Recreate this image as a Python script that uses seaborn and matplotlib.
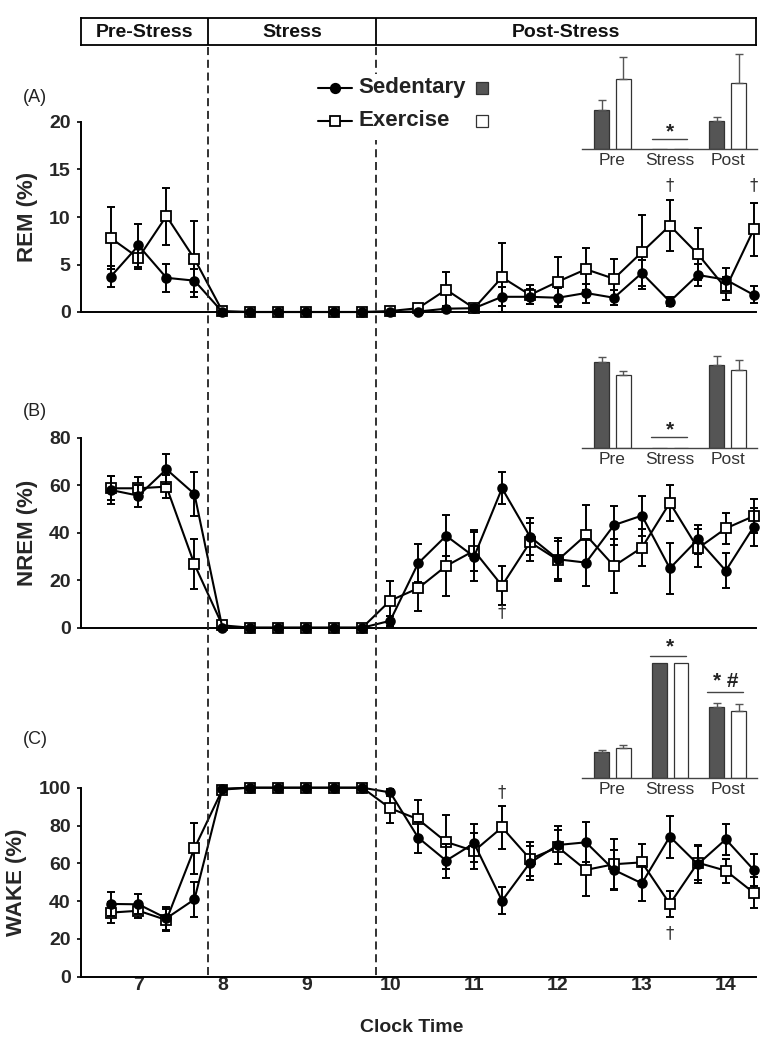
import numpy as np
import pandas as pd
import matplotlib
matplotlib.use("Agg")
import matplotlib.pyplot as plt
import seaborn as sns
from matplotlib.lines import Line2D
from matplotlib.patches import Rectangle
import matplotlib.transforms as mtransforms

# ---------------- data ----------------
clock_time = [6.667, 7.0, 7.333, 7.667, 8.0, 8.333, 8.667, 9.0, 9.333, 9.667,
              10.0, 10.333, 10.667, 11.0, 11.333, 11.667, 12.0, 12.333, 12.667,
              13.0, 13.333, 13.667, 14.0, 14.333]
x_ticks = [7, 8, 9, 10, 11, 12, 13, 14]
phase_labels = ["Pre-Stress", "Stress", "Post-Stress"]
phase_bounds = [7.833, 9.833]
groups = ["Sedentary", "Exercise"]
periods = ["Pre", "Stress", "Post"]

rem_sed = [3.7, 7.0, 3.6, 3.3, 0, 0, 0, 0, 0, 0, 0.0, 0.05, 0.35, 0.4, 1.6, 1.6,
           1.5, 2.0, 1.5, 4.1, 1.1, 3.9, 3.4, 1.8]
rem_sed_sem = [1.1, 2.3, 1.45, 1.2, 0, 0, 0, 0, 0, 0, 0, 0, 0.3, 0.3, 1.0, 0.8,
               1.0, 1.0, 0.8, 1.4, 0.5, 1.2, 1.2, 0.9]
rem_ex = [7.8, 5.7, 10.1, 5.6, 0.1, 0, 0, 0, 0, 0, 0.1, 0.4, 2.35, 0.4, 3.65, 1.8,
          3.2, 4.5, 3.5, 6.3, 9.1, 6.1, 2.5, 8.7]
rem_ex_sem = [3.3, 1.2, 3.0, 4.0, 0, 0, 0, 0, 0, 0, 0, 0.3, 1.9, 0.3, 3.6, 1.0,
              2.6, 2.2, 2.1, 3.9, 2.7, 2.7, 1.2, 2.8]

nrem_sed = [58.0, 55.6, 66.7, 56.3, 0, 0, 0, 0, 0, 0, 2.9, 27.1, 38.7, 29.9, 58.7,
            38.3, 28.8, 27.4, 43.2, 47.2, 25.0, 37.2, 24.0, 42.5]
nrem_sed_sem = [6.0, 4.6, 6.4, 9.4, 0, 0, 0, 0, 0, 0, 2.0, 8.0, 8.7, 10.2, 6.7,
                7.8, 9.0, 10.0, 8.2, 8.4, 10.8, 6.0, 7.4, 8.1]
nrem_ex = [58.7, 58.7, 59.4, 26.7, 1.0, 0, 0, 0, 0, 0, 11.4, 16.6, 26.0, 32.4, 17.7,
           36.0, 28.5, 39.0, 26.0, 33.7, 52.6, 33.4, 41.8, 47.0]
nrem_ex_sem = [5.0, 4.6, 4.8, 10.6, 0, 0, 0, 0, 0, 0, 8.3, 9.6, 12.5, 8.7, 8.2,
               8.0, 8.0, 12.7, 11.5, 7.7, 7.6, 8.0, 6.4, 7.2]

wake_sed = [38.5, 38.3, 30.9, 40.9, 99.5, 100, 100, 100, 100, 100, 97.5, 73.6, 61.4,
            70.6, 40.2, 60.3, 69.7, 71.1, 56.5, 49.4, 74.1, 59.5, 72.7, 56.5]
wake_sed_sem = [6.2, 5.3, 6.0, 9.4, 0, 0, 0, 0, 0, 0, 2.0, 8.3, 9.0, 10.0, 7.1,
                9.0, 10.0, 10.6, 10.6, 9.3, 11.1, 10.0, 8.1, 8.3]
wake_ex = [33.9, 34.9, 30.0, 67.9, 99.0, 100, 100, 100, 100, 100, 89.1, 83.3, 71.3,
           66.5, 79.0, 62.3, 68.5, 56.5, 59.5, 60.5, 38.5, 60.3, 56.1, 44.4]
wake_ex_sem = [5.7, 4.0, 6.0, 13.6, 0, 0, 0, 0, 0, 0, 7.9, 10.2, 14.3, 9.7, 11.3,
               9.0, 9.0, 13.6, 13.2, 9.7, 7.0, 9.0, 6.4, 8.2]

rem_bar_sed = [4.4, 0, 3.15]
rem_bar_sed_sem = [1.05, 0, 0.45]
rem_bar_ex = [7.9, 0, 7.4]
rem_bar_ex_sem = [2.45, 0, 3.2]

nrem_bar_sed = [58.9, 0, 56.9]
nrem_bar_sed_sem = [3.4, 0, 5.7]
nrem_bar_ex = [49.7, 0, 53.3]
nrem_bar_ex_sem = [3.1, 0, 6.6]

wake_bar_sed = [22.2, 100, 62.1]
wake_bar_sed_sem = [2.3, 0, 3.5]
wake_bar_ex = [25.7, 100, 58.6]
wake_bar_ex_sem = [2.6, 0, 5.6]

rem_daggers = [(13.333, 13.4), (14.333, 13.4)]
nrem_daggers = [(11.333, 6.7)]
wake_daggers = [(11.333, 97.9), (13.333, 23.3)]

# ---------------- style ----------------
sns.set_theme(style="ticks")
plt.rcParams["font.family"] = ["Liberation Sans", "DejaVu Sans"]
plt.rcParams["text.color"] = "#111111"

W, H = 779, 1049
fig = plt.figure(figsize=(W / 100, H / 100), dpi=100)
fig.patch.set_facecolor("white")


def fx(px):
    return px / W


def fy(py):
    return 1 - py / H


AX_L, AX_R = 81, 756
XLIM = (6.315, 14.36)

panels = [
    dict(label="(A)", ylab="REM (%)", top=122, bot=312, ylim=(0, 20), yticks=[0, 5, 10, 15, 20],
         sed=rem_sed, sed_sem=rem_sed_sem, ex=rem_ex, ex_sem=rem_ex_sem, lab_y=98,
         daggers=rem_daggers,
         inset=dict(top=50, bot=149, ymax=11.1, sed=rem_bar_sed, sed_sem=rem_bar_sed_sem,
                    ex=rem_bar_ex, ex_sem=rem_bar_ex_sem,
                    ann=[("*", 1.0, 1.35, 1.12, 0.68, 1.30)])),
    dict(label="(B)", ylab="NREM (%)", top=437.7, bot=627.7, ylim=(0, 80), yticks=[0, 20, 40, 60, 80],
         sed=nrem_sed, sed_sem=nrem_sed_sem, ex=nrem_ex, ex_sem=nrem_ex_sem, lab_y=411.7,
         daggers=nrem_daggers,
         inset=dict(top=348, bot=448.3, ymax=68.2, sed=nrem_bar_sed, sed_sem=nrem_bar_sed_sem,
                    ex=nrem_bar_ex, ex_sem=nrem_bar_ex_sem,
                    ann=[("*", 1.0, 9.0, 7.7, 0.67, 1.29)])),
    dict(label="(C)", ylab="WAKE (%)", top=787.7, bot=976.7, ylim=(0, 100), yticks=[0, 20, 40, 60, 80, 100],
         sed=wake_sed, sed_sem=wake_sed_sem, ex=wake_ex, ex_sem=wake_ex_sem, lab_y=740,
         daggers=wake_daggers,
         inset=dict(top=640, bot=777.7, ymax=120.4, sed=wake_bar_sed, sed_sem=wake_bar_sed_sem,
                    ex=wake_bar_ex, ex_sem=wake_bar_ex_sem,
                    ann=[("*", 1.0, 109.3, 106.6, 0.65, 1.28),
                         ("* #", 1.96, 79.5, 75.2, 1.64, 2.27)])),
]

main_axes = []
for i, p in enumerate(panels):
    ax = fig.add_axes([fx(AX_L), fy(p["bot"]), fx(AX_R) - fx(AX_L), (p["bot"] - p["top"]) / H])
    ax.set_facecolor("none")
    main_axes.append(ax)
    x = np.array(clock_time)
    for vals, sems, mk, face, z in [(p["ex"], p["ex_sem"], "s", "white", 3),
                                    (p["sed"], p["sed_sem"], "o", "black", 4)]:
        vals = np.array(vals, dtype=float)
        sems = np.array(sems, dtype=float)
        m = sems > 0
        ax.errorbar(x[m], vals[m], yerr=sems[m], fmt="none", ecolor="black",
                    elinewidth=1.4, capsize=3.2, capthick=1.4, zorder=z - 1, clip_on=False)
        sns.lineplot(x=x, y=vals, ax=ax, color="black", lw=1.5, marker=mk,
                     markersize=6.8 if mk == "s" else 6.3, markerfacecolor=face,
                     markeredgecolor="black", markeredgewidth=1.3, zorder=z,
                     errorbar=None, clip_on=False, legend=False)
    ax.set_xlim(*XLIM)
    ax.set_ylim(*p["ylim"])
    ax.set_yticks(p["yticks"])
    ax.set_yticklabels([str(t) for t in p["yticks"]], fontsize=14, fontweight="bold")
    ax.set_xticks(x_ticks)
    if i == 2:
        ax.set_xticklabels([str(t) for t in x_ticks], fontsize=14, fontweight="bold")
    else:
        ax.set_xticklabels([])
    ax.tick_params(axis="x", length=0, pad=0.5)
    ax.tick_params(axis="y", length=3.2, width=1.2, pad=4.2, color="black")
    ax.set_xlabel("")
    ax.set_ylabel(p["ylab"], fontsize=16, fontweight="bold", labelpad=8)
    for s in ["top", "right"]:
        ax.spines[s].set_visible(False)
    for s in ["left", "bottom"]:
        ax.spines[s].set_linewidth(1.4)
        ax.spines[s].set_color("black")
    for (dx, dy) in p["daggers"]:
        ax.text(dx, dy, "\u2020", ha="center", va="center", fontsize=12, color="#333333",
                family=["DejaVu Sans"])
    fig.text(fx(23), fy(p["lab_y"]), p["label"], ha="left", va="center", fontsize=13,
             color="#222222")

    # ---- inset bar chart ----
    ins = p["inset"]
    axi = fig.add_axes([fx(582), fy(ins["bot"]), fx(757) - fx(582), (ins["bot"] - ins["top"]) / H])
    axi.set_facecolor("none")
    df = pd.DataFrame({
        "period": periods * 2,
        "group": [groups[0]] * 3 + [groups[1]] * 3,
        "value": list(ins["sed"]) + list(ins["ex"]),
    })
    sns.barplot(data=df, x="period", y="value", hue="group", order=periods, hue_order=groups,
                palette={"Sedentary": "#555555", "Exercise": "white"}, width=0.76, gap=0.316,
                errorbar=None, edgecolor="#333333", linewidth=0.9, legend=False, ax=axi)
    for cont, sems in zip(axi.containers, [ins["sed_sem"], ins["ex_sem"]]):
        for bar, se in zip(cont, sems):
            if se > 0:
                cx = bar.get_x() + bar.get_width() / 2
                axi.errorbar([cx], [bar.get_height()], yerr=[[0], [se]], fmt="none",
                             ecolor="#555555", elinewidth=1.0, capsize=2.6, capthick=1.0,
                             clip_on=False)
    for txt, tx, ty, ly, lx0, lx1 in ins["ann"]:
        axi.text(tx, ty, txt, ha="center", va="baseline", fontsize=15, fontweight="bold",
                 color="#222222")
        axi.plot([lx0, lx1], [ly, ly], color="#444444", lw=1.0, clip_on=False)
    axi.set_xlim(-0.53, 2.51)
    axi.set_ylim(0, ins["ymax"])
    axi.set_yticks([])
    axi.set_xlabel("")
    axi.set_ylabel("")
    axi.set_xticks([0, 1, 2])
    axi.set_xticklabels(periods, fontsize=12.5, color="#333333")
    axi.tick_params(axis="x", length=0, pad=3)
    for s in ["top", "right", "left"]:
        axi.spines[s].set_visible(False)
    axi.spines["bottom"].set_linewidth(1.0)
    axi.spines["bottom"].set_color("#444444")

# ---------------- x label ----------------
fig.text(fx(412), fy(1027), "Clock Time", ha="center", va="center", fontsize=14,
         fontweight="bold", color="#222222")

# ---------------- header box ----------------
axh = fig.add_axes([fx(AX_L), fy(45), fx(AX_R) - fx(AX_L), 27 / H])
axh.set_xlim(*XLIM)
axh.set_ylim(0, 1)
axh.set_xticks([])
axh.set_yticks([])
for s in axh.spines.values():
    s.set_visible(True)
    s.set_linewidth(1.3)
    s.set_color("black")
edges = [XLIM[0]] + phase_bounds + [XLIM[1]]
for b in phase_bounds:
    axh.axvline(b, color="black", lw=1.3)
for k, lab in enumerate(phase_labels):
    axh.text((edges[k] + edges[k + 1]) / 2, 0.48, lab, ha="center", va="center",
             fontsize=14, fontweight="bold", color="#111111")

# ---------------- dashed phase lines ----------------
blend = mtransforms.blended_transform_factory(main_axes[2].transData, fig.transFigure)
lw_d = 1.3
for b in phase_bounds:
    fig.add_artist(Line2D([b, b], [fy(47), fy(976.7)], transform=blend, color="#222222",
                          lw=lw_d, linestyle=(0, (5.8 / lw_d, 3.4 / lw_d)), zorder=1))

# ---------------- legend ----------------
fig.add_artist(Rectangle((fx(314), fy(140)), fx(497) - fx(314), (140 - 74) / H,
                         transform=fig.transFigure, facecolor="white", edgecolor="none", zorder=5))
rows = [("Sedentary", 88, "o", "black", "#555555", 6.8),
        ("Exercise", 121, "s", "white", "white", 7.4)]
for name, yy, mk, face, patch_col, ms in rows:
    fig.add_artist(Line2D([fx(318), fx(352)], [fy(yy), fy(yy)], transform=fig.transFigure,
                          color="black", lw=1.5, zorder=6))
    fig.add_artist(Line2D([fx(335)], [fy(yy)], transform=fig.transFigure, marker=mk,
                          markersize=ms, markerfacecolor=face, markeredgecolor="black",
                          markeredgewidth=1.3, color="black", zorder=7))
    fig.text(fx(358), fy(yy), name, ha="left", va="center", fontsize=16, fontweight="bold",
             color="#222222", zorder=7)
    fig.add_artist(Rectangle((fx(476), fy(yy + 6)), 12 / W, 12 / H, transform=fig.transFigure,
                             facecolor=patch_col, edgecolor="#333333", lw=0.9, zorder=7))

fig.savefig("out.png", dpi=100, facecolor="white")
